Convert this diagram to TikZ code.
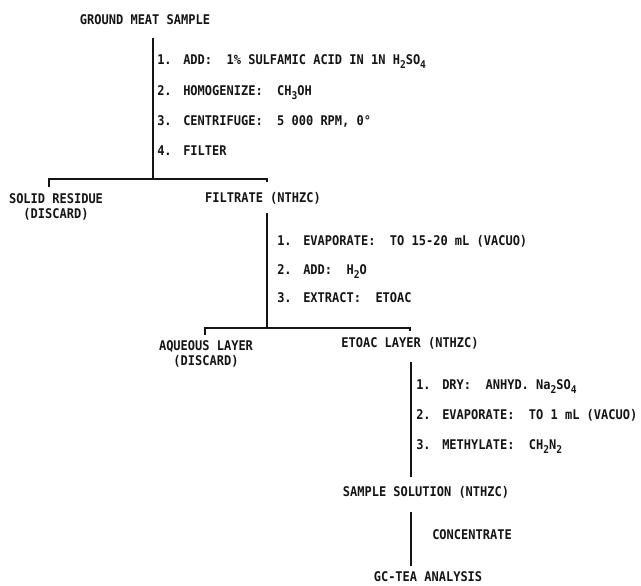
\documentclass[tikz,border=0pt]{standalone}
\usepackage{fontspec}
\setmainfont{DejaVu Sans Mono}[FakeStretch=0.9]
\usepackage{xcolor}
\definecolor{flowInk}{HTML}{141414}
\newcommand{\dn}[1]{\raisebox{-0.45ex}{\fontsize{8}{8}\selectfont #1}}
\newcommand{\nr}[1]{\makebox[19.5pt][l]{#1}}
\tikzset{
  lbl/.style={font=\fontsize{10}{11.25}\selectfont\bfseries, text=flowInk, inner sep=0pt, text height=7.3pt, text depth=0pt},
  pair/.style={font=\fontsize{10}{11.25}\selectfont\bfseries, text=flowInk, inner sep=0pt, align=center, anchor=north},
  stepline/.style={lbl, anchor=west},
  flow/.style={draw=flowInk, line width=0.9pt},
}

\begin{document}
\frenchspacing
\begin{tikzpicture}[x=0.75pt, y=-0.75pt]
  \useasboundingbox (0,0) rectangle (641,585);

  \node[lbl] (gms) at (145,20) {GROUND MEAT SAMPLE};
  \coordinate (top1) at (153,38);
  \coordinate (j1) at (153,179);
  \coordinate (l1) at (49,187);
  \coordinate (r1) at (267,182);
  \draw[flow] (top1) -- (j1);
  \draw[flow] (l1) |- (j1) -| (r1);
  \node[stepline] (s11) at (157,60) {\nr{1.}ADD:\ \ 1\% SULFAMIC ACID IN 1N H\dn{2}SO\dn{4}};
  \node[stepline] (s12) at (157,91) {\nr{2.}HOMOGENIZE:\ \ CH\dn{3}OH};
  \node[stepline] (s13) at (157,121) {\nr{3.}CENTRIFUGE:\ \ 5 000 RPM, 0°};
  \node[stepline] (s14) at (157,151) {\nr{4.}FILTER};

  \node[pair] (sr) at (56,193) {SOLID RESIDUE\\(DISCARD)};
  \node[lbl] (fil) at (263,198) {FILTRATE (NTHZC)};
  \coordinate (top2) at (267,213);
  \coordinate (j2) at (267,328);
  \coordinate (l2) at (205,335);
  \coordinate (r2) at (410,331);
  \draw[flow] (top2) -- (j2);
  \draw[flow] (l2) |- (j2) -| (r2);
  \node[stepline] (s21) at (277,241) {\nr{1.}EVAPORATE:\ \ TO 15-20 mL (VACUO)};
  \node[stepline] (s22) at (277,270) {\nr{2.}ADD:\ \ H\dn{2}O};
  \node[stepline] (s23) at (277,298) {\nr{3.}EXTRACT:\ \ ETOAC};

  \node[pair] (aq) at (206,340) {AQUEOUS LAYER\\(DISCARD)};
  \node[lbl] (eto) at (410,343) {ETOAC LAYER (NTHZC)};
  \coordinate (top3) at (411,362);
  \coordinate (bot3) at (411,477);
  \draw[flow] (top3) -- (bot3);
  \node[stepline] (s31) at (416,385) {\nr{1.}DRY:\ \ ANHYD. Na\dn{2}SO\dn{4}};
  \node[stepline] (s32) at (416,415) {\nr{2.}EVAPORATE:\ \ TO 1 mL (VACUO)};
  \node[stepline] (s33) at (416,445) {\nr{3.}METHYLATE:\ \ CH\dn{2}N\dn{2}};

  \node[lbl] (samp) at (426,492) {SAMPLE SOLUTION (NTHZC)};
  \coordinate (top4) at (411,512);
  \coordinate (bot4) at (411,566);
  \draw[flow] (top4) -- (bot4);
  \node[stepline] (conc) at (432,535) {CONCENTRATE};
  \node[lbl] (gc) at (428,577) {GC-TEA ANALYSIS};
\end{tikzpicture}
\end{document}
